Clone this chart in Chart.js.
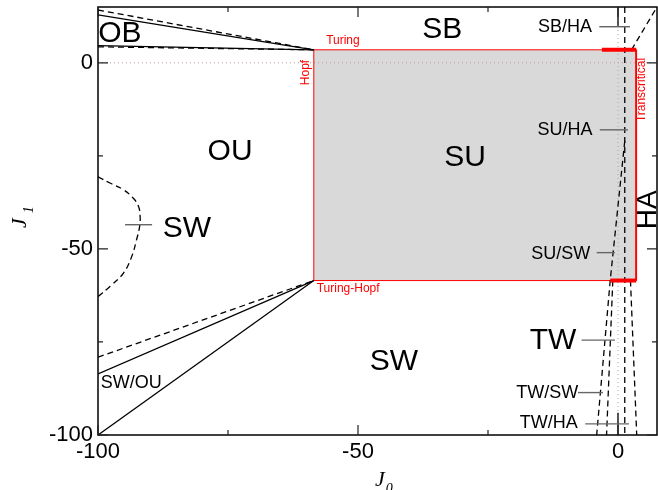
<!DOCTYPE html>
<html>
<head>
<title>Phase diagram J0 / J1</title>
<script src="https://cdn.jsdelivr.net/npm/chart.js"></script>
<style>
  body { margin: 0; background: #fff; }
</style>
</head>
<body>
<canvas id="phaseChart" width="658" height="490"></canvas>
<script>
// axis ranges and ticks
const xRange = [-100, 7.5];
const yRange = [-100, 15];
const majorTicks = [-100, -50, 0];
const minorTicks = [-75, -25];

// corners of the stable-uniform (SU) square
const squareLo = -58.5;
const squareHi = 3.5;

// solid boundaries
const obUpper = [[-100, 12.9], [-58.5, 3.5]];
const obLower = [[-100, 4.6], [-58.5, 3.5]];
const swouUpper = [[-100, -83.6], [-58.5, -58.5]];
const swouLower = [[-100, -100], [-58.5, -58.5]];
const zeroStubTop = [[0, 15], [0, 9.8]];
const zeroStubBottom = [[0, -94], [0, -100]];

// dashed boundaries
const obUpperDash = [[-100, 14.2], [-58.5, 3.5]];
const obLowerDash = [[-100, 4.3], [-58.5, 3.5]];
const swCurve = [[-100, -30.6], [-97.7, -32.3], [-95.1, -34.1], [-93.2, -36.4], [-92.2, -38.6],
                 [-91.9, -41.3], [-92.0, -44], [-92.6, -47.6], [-93.5, -52], [-95.1, -56.5],
                 [-97.7, -60.1], [-100, -62.8]];
const swouDash = [[-100, -79.1], [-58.5, -58.5]];
const haLine = [[1.3, 15], [1.3, -100]];
const sbhaLine = [[2.6, 3.5], [7.5, 15]];
const suswLine = [[1.3, -21], [-1.5, -58.5], [-4.1, -100]];
const twswLine = [[-1.0, -58.5], [-2.2, -100]];
const twhaLine = [[2.4, -58.5], [3.6, -100]];

// thick red pieces of the square edges
const turingThick = [[-3.1, 3.5], [3.5, 3.5]];
const turingHopfThick = [[-1.5, -58.5], [3.5, -58.5]];

// short pointer lines next to region names
const pointers = [
  [[-94.8, -43.5], [-89.6, -43.5]],   // SW
  [[-3.6, 9.7], [2.3, 9.7]],          // SB/HA
  [[-3.5, -18], [1.9, -18]],          // SU/HA
  [[-4.1, -51], [-0.6, -51]],         // SU/SW
  [[-7.0, -74.5], [-0.6, -74.5]],     // TW
  [[-7.7, -88.6], [-2.9, -88.6]],     // TW/SW
  [[-6.3, -97], [2.1, -97]]           // TW/HA
];

// region names: [text, x, y, size, rotation]
const regionLabels = [
  ['OB', -95.8, 7.8, 30, 0],
  ['SB', -33.8, 8.9, 30, 0],
  ['OU', -74.6, -23.9, 30, 0],
  ['SU', -29.4, -25.5, 30, 0],
  ['SW', -82.9, -44.6, 30, 0],
  ['HA', 5.8, -39.5, 28, -90],
  ['SW', -43.1, -80.4, 30, 0],
  ['TW', -12.5, -74.7, 30, 0],
  ['SW/OU', -93.6, -86.1, 18, 0],
  ['SB/HA', -10.2, 9.6, 18, 0],
  ['SU/HA', -10.2, -18, 18, 0],
  ['SU/SW', -11.0, -51.3, 18, 0],
  ['TW/SW', -13.6, -88.8, 18, 0],
  ['TW/HA', -13.3, -96.8, 18, 0]
];

// bifurcation names in red
const bifurcationLabels = [
  ['Turing', -52.9, 5.9, 0],
  ['Hopf', -60.0, -2.6, -90],
  ['Turing-Hopf', -51.9, -60.8, 0],
  ['Transcritical', 4.6, -7.3, -90]
];

const pts = a => a.map(([x, y]) => ({ x, y }));

function solid(data, color, width) {
  return { data: pts(data), borderColor: color || '#000', borderWidth: width || 1.3 };
}
function dashed(data) {
  return { data: pts(data), borderColor: '#000', borderWidth: 1.3, borderDash: [6, 4] };
}

const square = [[squareLo, squareLo], [squareLo, squareHi], [squareHi, squareHi],
                [squareHi, squareLo], [squareLo, squareLo]];

// dataset 0 is painted last (on top), the last one first
const datasets = [
  ...pointers.map(p => solid(p, '#666', 1.4)),
  solid(turingThick, '#ff0000', 4),
  solid(turingHopfThick, '#ff0000', 4),
  dashed(obUpperDash), dashed(obLowerDash), dashed(swouDash),
  { ...dashed(swCurve), tension: 0.4 },
  dashed(haLine), dashed(sbhaLine), dashed(suswLine), dashed(twswLine), dashed(twhaLine),
  solid(obUpper), solid(obLower), solid(swouUpper), solid(swouLower),
  solid(zeroStubTop), solid(zeroStubBottom),
  solid(square, '#ff0000', 1),
  solid([[squareHi, squareHi], [squareHi, squareLo]], '#ff3030', 1.8),
  { data: pts([[xRange[0], 0], [xRange[1], 0]]), borderColor: '#bf9a9a', borderWidth: 1, borderDash: [1, 3] },
  { data: pts([[0, yRange[0]], [0, yRange[1]]]), borderColor: '#bf9a9a', borderWidth: 1, borderDash: [1, 3] },
  { data: pts([[squareLo, squareHi], [squareHi, squareHi]]), borderWidth: 0,
    backgroundColor: '#d9d9d9', fill: { value: squareLo } }
].map(d => ({ showLine: true, pointRadius: 0, pointHoverRadius: 0, tension: 0, fill: false, ...d }));

// frame, inward ticks, labels and axis titles
const decorations = {
  id: 'decorations',
  afterDatasetsDraw(chart) {
    const { ctx, chartArea: a, scales: { x, y } } = chart;
    ctx.save();
    ctx.strokeStyle = '#000';
    ctx.lineWidth = 1.5;
    ctx.strokeRect(a.left, a.top, a.right - a.left, a.bottom - a.top);

    ctx.lineWidth = 1.2;
    ctx.strokeStyle = '#222';
    const tick = (v, len) => {
      const px = x.getPixelForValue(v), py = y.getPixelForValue(v);
      ctx.beginPath();
      ctx.moveTo(px, a.bottom); ctx.lineTo(px, a.bottom - len);
      ctx.moveTo(px, a.top); ctx.lineTo(px, a.top + len);
      if (v >= yRange[0] && v <= yRange[1]) {
        ctx.moveTo(a.left, py); ctx.lineTo(a.left + len, py);
        ctx.moveTo(a.right, py); ctx.lineTo(a.right - len, py);
      }
      ctx.stroke();
    };
    majorTicks.forEach(v => tick(v, 10));
    minorTicks.forEach(v => tick(v, 5));

    ctx.textAlign = 'center';
    ctx.textBaseline = 'middle';
    const put = (text, vx, vy, size, rot, color) => {
      ctx.save();
      ctx.translate(x.getPixelForValue(vx), y.getPixelForValue(vy));
      if (rot) ctx.rotate(rot * Math.PI / 180);
      ctx.font = size + 'px "Liberation Sans", Arial, sans-serif';
      ctx.fillStyle = color;
      ctx.fillText(text, 0, 0);
      ctx.restore();
    };
    regionLabels.forEach(([t, vx, vy, s, r]) => put(t, vx, vy, s, r, '#000'));
    bifurcationLabels.forEach(([t, vx, vy, r]) => put(t, vx, vy, 12, r, '#ff0000'));

    // J0 and J1 with subscripts
    const title = (px, py, rot, sub, gap) => {
      ctx.save();
      ctx.translate(px, py);
      ctx.rotate(rot);
      ctx.fillStyle = '#000';
      ctx.textAlign = 'left';
      ctx.textBaseline = 'alphabetic';
      ctx.font = 'italic 22px "Liberation Serif", "Times New Roman", serif';
      ctx.fillText('J', 0, 0);
      const w = ctx.measureText('J').width;
      ctx.font = 'italic 14px "Liberation Serif", "Times New Roman", serif';
      ctx.fillText(sub, w + gap, 7);
      ctx.restore();
    };
    title(375, 486, 0, '0', 1);
    title(26, 228, -Math.PI / 2, '1', 5);
    ctx.restore();
  }
};

new Chart(document.getElementById('phaseChart').getContext('2d'), {
  type: 'scatter',
  data: { datasets },
  options: {
    responsive: false,
    animation: false,
    layout: { padding: { top: 7, right: 1, left: 0, bottom: 0 } },
    plugins: { legend: { display: false }, tooltip: { enabled: false } },
    scales: {
      x: {
        type: 'linear', min: xRange[0], max: xRange[1],
        afterBuildTicks: s => { s.ticks = majorTicks.map(v => ({ value: v })); },
        afterFit: s => { s.height = 55; s.paddingLeft = 0; s.paddingRight = 0; },
        grid: { display: false, drawTicks: false },
        border: { display: false },
        ticks: { color: '#000', padding: 4, autoSkip: false, maxRotation: 0,
                 font: { family: '"Liberation Sans", Arial, sans-serif', size: 22 } }
      },
      y: {
        type: 'linear', min: yRange[0], max: yRange[1],
        afterBuildTicks: s => { s.ticks = majorTicks.map(v => ({ value: v })); },
        afterFit: s => { s.width = 98; s.paddingTop = 0; s.paddingBottom = 0; },
        grid: { display: false, drawTicks: false },
        border: { display: false },
        ticks: { color: '#000', padding: 5, autoSkip: false,
                 font: { family: '"Liberation Sans", Arial, sans-serif', size: 22 } }
      }
    }
  },
  plugins: [decorations]
});
</script>
</body>
</html>
